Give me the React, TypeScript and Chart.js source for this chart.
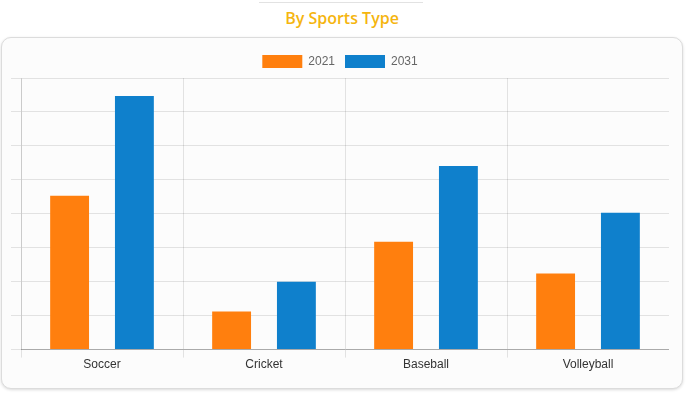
import React, { useEffect, useRef } from "react";
import { Chart, registerables } from "chart.js";

Chart.register(...registerables);

const categories = ["Soccer", "Cricket", "Baseball", "Volleyball"];
const seriesLabels = ["2021", "2031"];
const values2021 = [45.3, 11.2, 31.8, 22.4];
const values2031 = [74.7, 20.0, 54.1, 40.3];
const seriesColors = ["#ff7f0e", "#0f80cc"];

export default function App() {
  const ref = useRef<HTMLCanvasElement | null>(null);

  useEffect(() => {
    document.body.style.margin = "0";
    const ctx = ref.current;
    if (!ctx) return;
    const chart = new Chart(ctx, {
      type: "bar",
      data: {
        labels: categories,
        datasets: [
          {
            label: seriesLabels[0],
            data: values2021,
            backgroundColor: seriesColors[0],
            borderColor: seriesColors[0],
            borderWidth: 0,
            categoryPercentage: 0.8,
            barPercentage: 0.6,
          },
          {
            label: seriesLabels[1],
            data: values2031,
            backgroundColor: seriesColors[1],
            borderColor: seriesColors[1],
            borderWidth: 0,
            categoryPercentage: 0.8,
            barPercentage: 0.6,
          },
        ],
      },
      options: {
        animation: false,
        responsive: false,
        maintainAspectRatio: false,
        layout: { padding: { top: 1 } },
        plugins: {
          legend: {
            display: true,
            position: "top",
            labels: {
              boxWidth: 40,
              boxHeight: 13,
              padding: 10,
              color: "#666",
              font: { family: "Liberation Sans, Arial", size: 12 },
            },
          },
          tooltip: { enabled: false },
        },
        scales: {
          x: {
            grid: {
              display: true,
              color: "rgba(0,0,0,0.1)",
              tickLength: 8,
              offset: true,
            },
            border: { color: "#aaa" },
            ticks: {
              color: "#333",
              padding: 0,
              font: { family: "Liberation Sans, Arial", size: 12 },
            },
          },
          y: {
            min: 0,
            max: 80,
            grid: {
              color: "rgba(0,0,0,0.1)",
              tickLength: 10,
            },
            border: { color: "rgba(0,0,0,0.1)" },
            ticks: { display: false, stepSize: 10 },
          },
        },
      },
    });
    return () => chart.destroy();
  }, []);

  return (
    <div style={{ position: "absolute", left: 0, top: 0, width: 690, height: 396, background: "#fff" }}>
      <div
        style={{
          position: "absolute",
          left: 259,
          top: 2,
          width: 164,
          height: 1,
          background: "#e2e2e2",
        }}
      />
      <div
        style={{
          position: "absolute",
          left: 0,
          top: 6,
          width: 684,
          textAlign: "center",
          fontFamily: "'Open Sans', sans-serif",
          fontWeight: 600,
          fontSize: 16,
          color: "#f5b50f",
          lineHeight: "24px",
        }}
      >
        By Sports Type
      </div>
      <div
        style={{
          position: "absolute",
          left: 1,
          top: 37,
          width: 680,
          height: 350,
          border: "1px solid #dcdcdc",
          borderRadius: 10,
          background: "#fcfcfc",
          boxShadow: "0 1px 3px rgba(0,0,0,0.15)",
        }}
      />
      <canvas
        ref={ref}
        width={658}
        height={328}
        style={{ position: "absolute", left: 11, top: 44, width: 658, height: 328 }}
      />
    </div>
  );
}
